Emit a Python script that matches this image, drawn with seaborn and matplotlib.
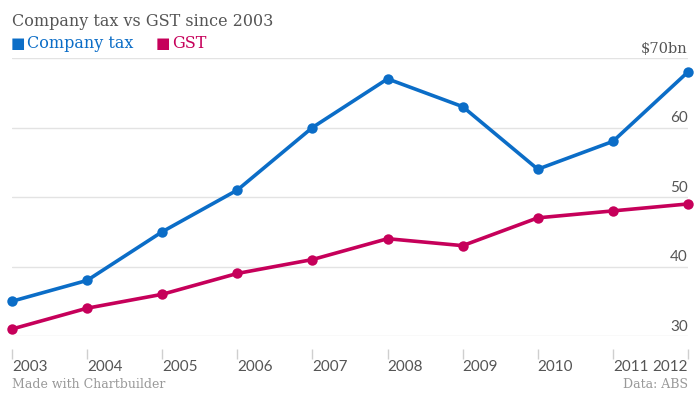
import matplotlib
matplotlib.use("Agg")
import matplotlib.pyplot as plt
import matplotlib.transforms as mtransforms
import seaborn as sns
import pandas as pd

years = [2003, 2004, 2005, 2006, 2007, 2008, 2009, 2010, 2011, 2012]
company_tax = [35, 38, 45, 51, 60, 67, 63, 54, 58, 68]
gst = [31, 34, 36, 39, 41, 44, 43, 47, 48, 49]
series_names = ["Company tax", "GST"]
colors = ["#0b6dc7", "#c6005a"]
y_ticks = [30, 40, 50, 60, 70]
y_tick_labels = ["30", "40", "50", "60", "$70bn"]
x_tick_labels = [str(y) for y in years]

df = pd.DataFrame({
    "year": years * 2,
    "value": company_tax + gst,
    "series": [series_names[0]] * len(years) + [series_names[1]] * len(years),
})

sns.set_theme(style="white")
plt.rcParams["font.family"] = ["DejaVu Serif", "DejaVu Sans"]

fig = plt.figure(figsize=(7.0, 3.94), dpi=100)
ax = fig.add_axes([12 / 700, 58 / 394, 676 / 700, 278 / 394])

sns.lineplot(data=df, x="year", y="value", hue="series", palette=colors,
             marker="o", markersize=7.5, markeredgewidth=0, linewidth=2.6,
             ax=ax, legend=False)
for ln in ax.lines:
    ln.set_clip_on(False)
    ln.set_solid_capstyle("round")

ax.set_xlim(years[0], years[-1])
ax.set_ylim(30, 70)
ax.set_xlabel("")
ax.set_ylabel("")

# gridlines
for v in y_ticks:
    ax.axhline(v, color="#e3e3e3", lw=1.0, zorder=0)
ax.set_yticks([])

for s in ["top", "right", "left"]:
    ax.spines[s].set_visible(False)
ax.spines["bottom"].set_position(("outward", 9))
ax.spines["bottom"].set_color("none")

ax.set_xticks(years)
ax.set_xticklabels(x_tick_labels, family="Lato", fontsize=11, color="#555555")
ax.tick_params(axis="x", direction="out", length=7, width=1, color="#cfcfcf", pad=1,
               bottom=True)
for i, lab in enumerate(ax.get_xticklabels()):
    lab.set_ha("right" if i == len(years) - 1 else "left")

# y labels on the right, above gridlines
trans = mtransforms.blended_transform_factory(ax.transAxes, ax.transData)
for v, t in zip(y_ticks, y_tick_labels):
    ax.text(1.0, v + 0.35, t, transform=trans, ha="right", va="bottom",
            family=["Lato"] if not t.startswith("$") else ["DejaVu Serif"],
            fontsize=11 if not t.startswith("$") else 10.5, color="#555555")

# title and legend
fig.text(12 / 700, 1 - 22 / 394, "Company tax vs GST since 2003", ha="left", va="center",
         fontsize=11.5, color="#555555")
fig.text(11 / 700, 1 - 44 / 394, "■", ha="left", va="center", fontsize=11,
         color=colors[0], family=["DejaVu Sans"])
fig.text(27 / 700, 1 - 44 / 394, series_names[0], ha="left", va="center",
         fontsize=11.5, color=colors[0])
fig.text(156 / 700, 1 - 44 / 394, "■", ha="left", va="center", fontsize=11,
         color=colors[1], family=["DejaVu Sans"])
fig.text(172 / 700, 1 - 44 / 394, series_names[1], ha="left", va="center",
         fontsize=11.5, color=colors[1])

# footer
fig.text(12 / 700, 1 - 384 / 394, "Made with Chartbuilder", ha="left", va="center",
         fontsize=9, color="#999999")
fig.text(688 / 700, 1 - 384 / 394, "Data: ABS", ha="right", va="center",
         fontsize=9, color="#999999")

fig.savefig("out.png", dpi=100)
